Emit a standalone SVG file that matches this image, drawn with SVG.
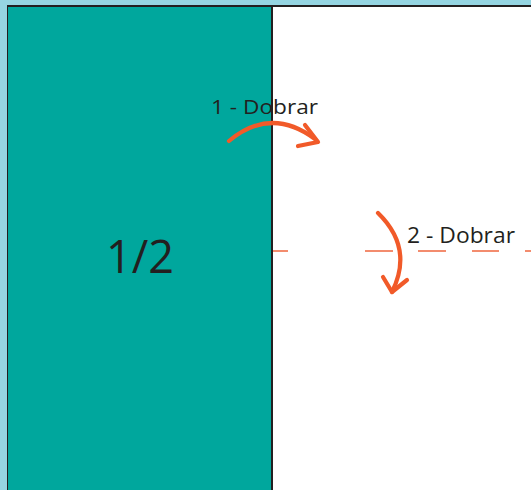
<svg xmlns="http://www.w3.org/2000/svg" width="531" height="490" viewBox="0 0 531 490">
<style>
.lbl{font-family:"Open Sans","Liberation Sans",Arial,sans-serif;fill:#231f20}
.arr{fill:none;stroke:#f15a29;stroke-width:4.2;stroke-linecap:round;stroke-linejoin:round}
.dash{stroke:#f38c6e;stroke-width:2}
</style>
<rect x="0" y="0" width="531" height="490" fill="#95d5e2"/>
<g id="sheet">
<rect x="8" y="6" width="530" height="490" fill="#ffffff" stroke="#231f20" stroke-width="2"/>
</g>
<g id="half">
<rect x="8" y="7" width="264" height="483" fill="#00a79d"/>
<line x1="272" y1="6" x2="272" y2="490" stroke="#231f20" stroke-width="2"/>
<text class="lbl" x="106" y="273" font-size="45">1/2</text>
</g>
<g id="connectors">
<g class="dash">
<line x1="273" y1="251" x2="288" y2="251"/>
<line x1="365" y1="251" x2="393" y2="251"/>
<line x1="418" y1="251" x2="446" y2="251"/>
<line x1="472" y1="251" x2="499" y2="251"/>
<line x1="525" y1="251" x2="531" y2="251"/>
</g>
<path class="arr" d="M229,141 Q271,106 315,139"/>
<path class="arr" d="M305,125 L318,142 L298,146"/>
<path class="arr" d="M378,213 Q414,248 392,292"/>
<path class="arr" d="M383,277 L392,292 L407,280"/>
</g>
<g id="label1">
<text class="lbl" x="211" y="114" font-size="20" textLength="107" lengthAdjust="spacingAndGlyphs">1 - Dobrar</text>
</g>
<g id="label2">
<text class="lbl" x="407" y="243" font-size="21" textLength="108" lengthAdjust="spacingAndGlyphs">2 - Dobrar</text>
</g>
</svg>
